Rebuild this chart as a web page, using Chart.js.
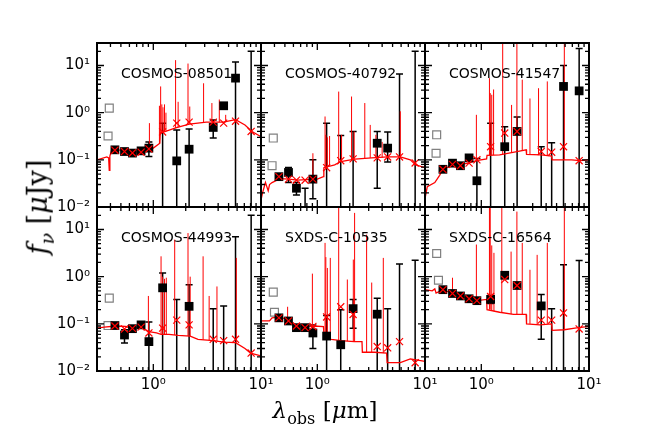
<!DOCTYPE html>
<html>
<head>
<meta charset="utf-8">
<script src="https://cdn.jsdelivr.net/npm/chart.js@4.4.0/dist/chart.umd.min.js"></script>
<style>
  html, body { margin: 0; padding: 0; background: #fff; }
  #fig { position: relative; width: 654px; height: 436px; overflow: hidden; }
  #fig canvas { position: absolute; }
  .name { position: absolute; font: 14px "DejaVu Sans", sans-serif; line-height: 1; color: #000; white-space: nowrap; }
  .axlabel { position: absolute; font-family: "DejaVu Serif", serif; font-size: 23px; line-height: 1; white-space: nowrap; color: #000; }
  .axlabel sub { font-size: 70%; vertical-align: -0.35em; }
</style>
</head>
<body>
<div id="fig">
  <div class="axlabel" id="xlab" style="left:325px; top:413px; transform:translate(-50%,-50%);"><i>λ</i><sub>obs</sub> [<i>μ</i>m]</div>
  <div class="axlabel" id="ylab" style="left:40px; top:207px; font-size:27px; transform:translate(-50%,-50%) rotate(-90deg);"><i>f</i><sub><i>ν</i></sub> [<i>μ</i>Jy]</div>
</div>
<script>
// ---- data (one entry per panel, row by row) ----
const panelNames = ['COSMOS-08501', 'COSMOS-40792', 'COSMOS-41547', 'COSMOS-44993', 'SXDS-C-10535', 'SXDS-C-16564'];

// photometric bands (micron)
const bandWave = [0.44, 0.54, 0.64, 0.77, 0.91, 1.22, 1.65, 2.15, 3.6, 4.5, 5.8, 8.1];

// observed fluxes (null = no square drawn), error bar ends
const obsFlux = [
  [0.163, 0.15, 0.139, 0.155, 0.177, null, 0.095, 0.168, 0.486, 1.4, 5.4, null],
  [0.044, 0.054, 0.025, null, 0.039, null, null, null, 0.225, 0.177, null, null],
  [0.063, 0.085, 0.075, 0.11, 0.036, null, 0.19, 0.40, null, null, 3.6, 2.9],
  [0.092, 0.058, 0.079, 0.095, 0.042, 0.58, null, 0.235, null, null, null, null],
  [0.134, 0.115, 0.083, 0.083, 0.064, 0.055, 0.036, 0.21, 0.16, null, null, null],
  [0.53, 0.44, 0.39, 0.34, 0.31, 0.33, 1.07, 0.65, 0.24, null, null, null]
];
const obsHi = [
  [0.175, 0.16, 0.15, 0.17, 0.24, 0.6, 0.43, 0.45, 0.7, 1.5, 11.8, 20],
  [0.048, 0.069, 0.033, 0.025, 0.1, 0.6, 0.33, 0.4, 0.4, 0.39, 6.6, 20],
  [0.068, 0.092, 0.082, 0.12, 0.107, 0.6, 0.5, 0.81, 0.19, 0.23, 10, 22.9],
  [0.1, 0.075, 0.086, 0.105, 0.11, 1.2, 0.33, 0.67, 0.21, 0.24, 7.0, 20],
  [0.145, 0.125, 0.09, 0.09, 0.095, 0.15, 0.2, 0.33, 0.35, 0.21, 1.86, 2.22],
  [0.56, 0.47, 0.41, 0.36, 0.33, 0.4, 1.15, 0.7, 0.42, 0.21, 1.8, 2.2]
];
const obsLo = [
  [0.152, 0.14, 0.128, 0.14, 0.118, 0.001, 0.001, 0.001, 0.29, 1.3, 0.001, 0.001],
  [0.040, 0.033, 0.018, 0.001, 0.015, 0.001, 0.001, 0.001, 0.025, 0.09, 0.001, 0.001],
  [0.058, 0.078, 0.068, 0.1, 0.001, 0.001, 0.001, 0.001, 0.001, 0.001, 0.001, 0.001],
  [0.084, 0.039, 0.072, 0.086, 0.001, 0.001, 0.001, 0.001, 0.001, 0.001, 0.001, 0.001],
  [0.123, 0.105, 0.076, 0.076, 0.03, 0.001, 0.001, 0.081, 0.001, 0.001, 0.001, 0.001],
  [0.5, 0.41, 0.37, 0.32, 0.29, 0.27, 1.0, 0.6, 0.047, 0.001, 0.001, 0.001]
];

// model photometry (red crosses)
const modelPhot = [
  [0.16, 0.15, 0.14, 0.145, 0.17, 0.39, 0.6, 0.63, 0.63, 0.6, 0.66, 0.4],
  [0.044, 0.039, 0.037, 0.037, 0.039, 0.068, 0.096, 0.105, 0.11, 0.115, 0.115, 0.086],
  [0.063, 0.08, 0.075, 0.085, 0.1, 0.19, 0.37, 0.4, 0.15, 0.145, 0.19, 0.096],
  [0.09, 0.078, 0.08, 0.085, 0.064, 0.081, 0.12, 0.095, 0.047, 0.044, 0.047, 0.024],
  [0.134, 0.115, 0.09, 0.083, 0.088, 0.14, 0.23, 0.158, 0.033, 0.031, 0.042, 0.015],
  [0.53, 0.44, 0.39, 0.34, 0.31, 0.38, 0.87, 0.65, 0.12, 0.12, 0.17, 0.078]
];

// excluded points (open grey squares)
const greyWave = [[0.39, 0.38], [0.39, 0.38], [0.385, 0.38], [0.39, 0.38], [0.39, 0.4], [0.385, 0.4]];
const greyFlux = [[1.25, 0.32], [0.29, 0.075], [0.34, 0.138], [0.35, 0.092], [0.47, 0.176], [3.1, 0.84]];

// model continuum
const contWave = [
  [0.3, 0.37, 0.385, 0.39, 0.395, 0.41, 0.45, 0.55, 0.65, 0.75, 0.85, 1.0, 1.15, 1.16, 1.3, 1.64, 2.16, 3.1, 4.45, 5.8, 7.1, 8.25, 10],
  [0.3, 0.31, 0.33, 0.35, 0.36, 0.38, 0.45, 0.55, 0.65, 0.8, 1.0, 1.14, 1.15, 1.45, 1.65, 2.23, 3.2, 4.5, 5.9, 7.3, 8.2, 10],
  [0.3, 0.315, 0.37, 0.41, 0.44, 0.53, 0.62, 0.76, 0.9, 1.12, 1.13, 1.48, 2.14, 2.61, 2.63, 3.6, 4.5, 4.55, 6.9, 8.3, 10],
  [0.3, 0.35, 0.45, 0.55, 0.63, 0.77, 0.91, 1.07, 1.18, 1.4, 1.7, 2.2, 2.6, 3.6, 4.5, 5.8, 7.1, 8.0, 10],
  [0.3, 0.36, 0.38, 0.45, 0.54, 0.65, 0.78, 0.93, 1.14, 1.16, 1.35, 1.66, 2.2, 2.6, 2.62, 3.4, 4.4, 4.45, 5.9, 7.3, 10],
  [0.3, 0.35, 0.37, 0.38, 0.44, 0.54, 0.64, 0.77, 0.92, 1.12, 1.13, 1.48, 1.99, 2.61, 2.63, 3.5, 4.5, 4.55, 5.9, 7.4, 10]
];
const contFlux = [
  [0.1, 0.115, 0.11, 0.06, 0.12, 0.16, 0.165, 0.155, 0.145, 0.15, 0.16, 0.177, 0.225, 0.37, 0.4, 0.48, 0.57, 0.63, 0.63, 0.71, 0.55, 0.4, 0.31],
  [0.014, 0.02, 0.033, 0.022, 0.03, 0.033, 0.04, 0.039, 0.037, 0.038, 0.039, 0.044, 0.068, 0.078, 0.092, 0.104, 0.11, 0.115, 0.115, 0.1, 0.078, 0.068],
  [0.015, 0.027, 0.033, 0.047, 0.063, 0.075, 0.078, 0.085, 0.096, 0.105, 0.125, 0.127, 0.15, 0.163, 0.13, 0.127, 0.12, 0.1, 0.1, 0.096, 0.1],
  [0.081, 0.085, 0.09, 0.088, 0.079, 0.085, 0.068, 0.064, 0.06, 0.06, 0.057, 0.055, 0.047, 0.044, 0.041, 0.04, 0.03, 0.024, 0.021],
  [0.115, 0.115, 0.134, 0.14, 0.12, 0.09, 0.087, 0.09, 0.087, 0.05, 0.047, 0.044, 0.042, 0.042, 0.025, 0.025, 0.024, 0.015, 0.015, 0.018, 0.016],
  [0.53, 0.5, 0.55, 0.45, 0.53, 0.44, 0.39, 0.34, 0.31, 0.33, 0.2, 0.176, 0.158, 0.158, 0.1, 0.095, 0.1, 0.073, 0.075, 0.081, 0.088]
];

// emission lines: wavelength, peak, foot
const lineWave = [
  [0.92, 1.14, 1.17, 1.2, 1.23, 1.27, 1.31, 1.61, 1.7, 2.1, 2.18, 2.93, 3.5, 4.1, 4.7],
  [0.91, 1.18, 1.2, 1.24, 1.3, 1.58, 1.68, 2.08, 2.2, 2.76, 3.1, 3.5, 4.0, 5.9],
  [0.9, 1.19, 1.21, 1.25, 1.3, 1.58, 1.91, 2.14, 2.4, 2.83, 3.4, 4.1, 5.9],
  [0.9, 1.18, 1.22, 1.27, 1.32, 1.58, 2.1, 2.2, 2.9, 3.3, 3.9, 5.9],
  [0.53, 0.9, 1.18, 1.2, 1.24, 1.32, 1.58, 1.9, 2.16, 2.22, 2.87, 3.2, 4.1],
  [0.54, 0.9, 1.19, 1.21, 1.25, 1.31, 1.55, 1.89, 2.14, 2.4, 2.83, 3.3, 4.1, 5.9]
];
const lineTop = [
  [0.6, 1.4, 3.6, 1.5, 1.3, 1.5, 1.0, 13, 1.7, 11, 1.35, 4.2, 1.6, 1.9, 0.9],
  [0.138, 0.83, 0.34, 0.3, 0.32, 2.8, 0.34, 2.2, 0.4, 1.6, 0.55, 0.34, 0.24, 1.07],
  [0.9, 5.4, 2.6, 2.4, 3.1, 40, 1.46, 40, 5, 2.0, 3.3, 4.6, 40],
  [0.39, 2.7, 1.0, 0.9, 0.95, 6.1, 8.4, 1.0, 2.7, 0.39, 0.62, 2.5],
  [0.23, 1.16, 5.2, 2.6, 1.53, 2.5, 40, 0.87, 2.3, 22.5, 7.8, 0.75, 2.5],
  [0.95, 4.8, 40, 40, 4.6, 3.2, 40, 3.4, 24, 5.2, 1.4, 2.9, 5.2, 40]
];
const lineBase = [
  [0.18, 0.22, 0.37, 0.38, 0.39, 0.4, 0.4, 0.47, 0.49, 0.56, 0.57, 0.62, 0.63, 0.63, 0.62],
  [0.039, 0.068, 0.07, 0.072, 0.075, 0.088, 0.093, 0.1, 0.104, 0.108, 0.11, 0.11, 0.112, 0.115],
  [0.096, 0.125, 0.125, 0.125, 0.126, 0.13, 0.14, 0.15, 0.155, 0.13, 0.127, 0.123, 0.1],
  [0.068, 0.06, 0.06, 0.06, 0.06, 0.058, 0.055, 0.055, 0.046, 0.045, 0.043, 0.04],
  [0.12, 0.09, 0.05, 0.05, 0.049, 0.047, 0.045, 0.043, 0.042, 0.042, 0.025, 0.025, 0.024],
  [0.44, 0.31, 0.2, 0.2, 0.19, 0.185, 0.17, 0.16, 0.158, 0.158, 0.1, 0.097, 0.1, 0.075]
];

// axes
const xRange = [0.3, 10];
const yRange = [0.01, 30];
const xMajor = [1, 10];
const yMajor = [0.01, 0.1, 1, 10];
const tickText = { 0.01: '10\u207B\u00B2', 0.1: '10\u207B\u00B9', 1: '10\u2070', 10: '10\u00B9' };

// ---- layout ----
const panelLeft = [97, 261, 425];
const panelTop = [43, 207];
const panelSize = 164;
const padL = 62, padR = 22, padT = 10, padB = 34;

function minorTicks(lo, hi) {
  const out = [];
  for (let e = -3; e <= 2; e++) {
    for (let m = 2; m <= 9; m++) {
      const v = m * Math.pow(10, e);
      if (v >= lo * 0.999 && v <= hi * 1.001) out.push(v);
    }
  }
  return out;
}
const xMinor = minorTicks(xRange[0], xRange[1]);
const yMinor = minorTicks(yRange[0], yRange[1]);

const panelDecor = {
  id: 'panelDecor',
  beforeDatasetsDraw(chart, args, opts) {
    const p = opts.panel;
    const { ctx, chartArea: a, scales: { x, y } } = chart;
    ctx.save();
    ctx.beginPath();
    ctx.rect(a.left, a.top, a.width, a.height);
    ctx.clip();
    ctx.strokeStyle = '#000';
    ctx.lineWidth = 1.5;
    bandWave.forEach((w, i) => {
      const hi = obsHi[p][i], lo = obsLo[p][i];
      if (hi == null) return;
      const px = x.getPixelForValue(w);
      const top = y.getPixelForValue(hi);
      const bot = y.getPixelForValue(lo);
      ctx.beginPath();
      ctx.moveTo(px, top); ctx.lineTo(px, bot);
      ctx.moveTo(px - 3.5, top); ctx.lineTo(px + 3.5, top);
      ctx.moveTo(px - 3.5, bot); ctx.lineTo(px + 3.5, bot);
      ctx.stroke();
    });
    ctx.restore();
  },
  afterDatasetsDraw(chart) {
    const { ctx, chartArea: a, scales: { x, y } } = chart;
    ctx.save();
    ctx.strokeStyle = '#000';
    ctx.lineWidth = 1.3;
    const tick = (vals, len, horiz) => {
      vals.forEach(v => {
        ctx.beginPath();
        if (horiz) {
          const py = y.getPixelForValue(v);
          ctx.moveTo(a.left, py); ctx.lineTo(a.left + len, py);
          ctx.moveTo(a.right, py); ctx.lineTo(a.right - len, py);
        } else {
          const px = x.getPixelForValue(v);
          ctx.moveTo(px, a.bottom); ctx.lineTo(px, a.bottom - len);
          ctx.moveTo(px, a.top); ctx.lineTo(px, a.top + len);
        }
        ctx.stroke();
      });
    };
    tick(yMajor, 7, true);
    tick(yMinor, 4, true);
    tick(xMajor, 7, false);
    tick(xMinor, 4, false);
    ctx.lineWidth = 2;
    ctx.strokeRect(a.left, a.top, a.width, a.height);
    ctx.restore();
  }
};

const fig = document.getElementById('fig');

function makePanel(p) {
  const row = Math.floor(p / 3), col = p % 3;
  const canvas = document.createElement('canvas');
  canvas.width = padL + panelSize + padR;
  canvas.height = padT + panelSize + padB;
  canvas.style.left = (panelLeft[col] - padL) + 'px';
  canvas.style.top = (panelTop[row] - padT) + 'px';
  fig.insertBefore(canvas, fig.firstChild);

  const name = document.createElement('div');
  name.className = 'name';
  name.textContent = panelNames[p];
  name.style.left = (panelLeft[col] + 24) + 'px';
  name.style.top = (panelTop[row] + 22.6) + 'px';
  fig.appendChild(name);

  const spikes = [];
  lineWave[p].forEach((w, i) => {
    spikes.push({ x: w, y: lineBase[p][i] }, { x: w, y: lineTop[p][i] }, { x: w, y: null });
  });

  new Chart(canvas, {
    type: 'scatter',
    data: {
      datasets: [
        {
          data: bandWave.map((w, i) => ({ x: w, y: modelPhot[p][i] })),
          pointStyle: 'crossRot', pointRadius: 5, borderColor: '#ff0000', borderWidth: 1.2,
          backgroundColor: '#ff0000'
        },
        {
          data: bandWave.map((w, i) => ({ x: w, y: obsFlux[p][i] })).filter(d => d.y != null),
          pointStyle: 'rect', pointRadius: 6.2, backgroundColor: '#000', borderColor: '#000', borderWidth: 0
        },
        {
          data: contWave[p].map((w, i) => ({ x: w, y: contFlux[p][i] })),
          showLine: true, pointRadius: 0, borderColor: '#ff0000', borderWidth: 1.3, tension: 0
        },
        {
          data: spikes,
          showLine: true, pointRadius: 0, borderColor: '#ff0000', borderWidth: 1, spanGaps: false
        },
        {
          data: greyWave[p].map((w, i) => ({ x: w, y: greyFlux[p][i] })),
          pointStyle: 'rect', pointRadius: 5.6, backgroundColor: '#fff', borderColor: '#808080', borderWidth: 1.2
        }
      ]
    },
    options: {
      responsive: false,
      animation: false,
      devicePixelRatio: 1,
      events: [],
      layout: { padding: { left: 0, right: padR, top: padT, bottom: 0 }, autoPadding: false },
      plugins: { legend: { display: false }, tooltip: { enabled: false }, panelDecor: { panel: p } },
      scales: {
        x: {
          type: 'logarithmic', min: xRange[0], max: xRange[1], position: 'bottom',
          grid: { display: false, drawTicks: false }, border: { display: false },
          afterBuildTicks: s => { s.ticks = xMajor.map(v => ({ value: v })); },
          afterFit: s => { s.height = padB; s.paddingLeft = 0; s.paddingRight = 0; },
          ticks: {
            display: row === 1, autoSkip: false, maxRotation: 0, padding: 5, color: '#000',
            font: { family: 'DejaVu Sans', size: 15 },
            callback: v => tickText[v] || ''
          }
        },
        y: {
          type: 'logarithmic', min: yRange[0], max: yRange[1], position: 'left',
          grid: { display: false, drawTicks: false }, border: { display: false },
          afterBuildTicks: s => { s.ticks = yMajor.map(v => ({ value: v })); },
          afterFit: s => { s.width = padL; s.paddingTop = 0; s.paddingBottom = 0; },
          ticks: {
            display: col === 0, autoSkip: false, padding: 7, color: '#000',
            font: { family: 'DejaVu Sans', size: 15 },
            callback: v => tickText[v] || ''
          }
        }
      }
    },
    plugins: [panelDecor]
  });
}

for (let p = 0; p < 6; p++) makePanel(p);
</script>
</body>
</html>
